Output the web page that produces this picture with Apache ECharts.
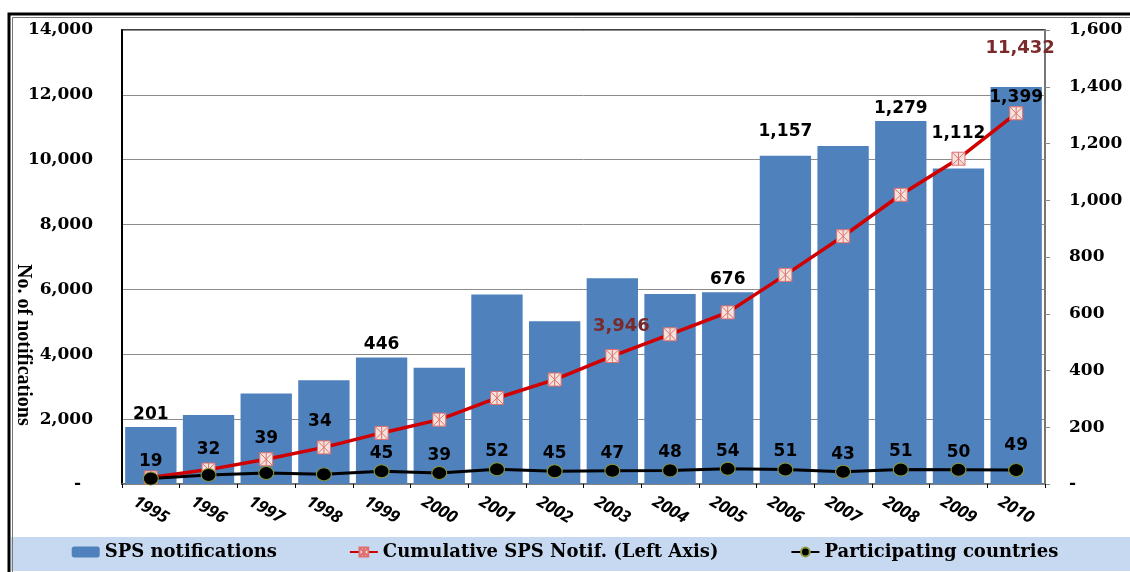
<!DOCTYPE html>
<html>
<head>
<meta charset="utf-8">
<script src="https://cdn.jsdelivr.net/npm/echarts@6/dist/echarts.min.js"></script>
<style>
  html, body { margin: 0; padding: 0; background: #fff; }
  #chart { width: 1130px; height: 572px; }
</style>
</head>
<body>
<div id="chart"></div>
<script>
  // data
  var years = ['1995', '1996', '1997', '1998', '1999', '2000', '2001', '2002',
               '2003', '2004', '2005', '2006', '2007', '2008', '2009', '2010'];
  var notifications = [201, 243, 319, 366, 446, 410, 668, 574, 725, 670, 676, 1157, 1191, 1279, 1112, 1399];
  var cumulative = [201, 444, 763, 1129, 1575, 1985, 2653, 3221, 3946, 4616, 5292, 6449, 7640, 8919, 10031, 11432];
  var countries = [19, 32, 39, 34, 45, 39, 52, 45, 47, 48, 54, 51, 43, 51, 50, 49];

  // which values get a label on the chart
  var barLabelYears = ['1995', '1999', '2005', '2006', '2008', '2009', '2010'];
  var cumLabelYears = ['2003', '2010'];

  // label nudges so they clear the lines
  var barOffsets = { '2006': [0, -12], '2009': [0, -22] };
  var cumOffsets = { '2003': [9, -9], '2010': [4, -44] };
  var countryOffsets = { '1996': [0, -8], '1997': [0, -17], '1998': [-4, -35], '2010': [0, -7] };

  var labelFont = 'DejaVu Sans';
  var axisFont = 'DejaVu Serif';

  function fmt(v) {
    return v.toLocaleString('en-US');
  }

  var barData = notifications.map(function (v, i) {
    var y = years[i];
    var show = barLabelYears.indexOf(y) >= 0;
    var item = { value: v, label: { show: show } };
    if (y === '2010') {
      item.label.position = 'insideTop';
      item.label.offset = [0, -2];
    } else if (barOffsets[y]) {
      item.label.offset = barOffsets[y];
    }
    return item;
  });

  var cumData = cumulative.map(function (v, i) {
    var y = years[i];
    var item = { value: v, label: { show: cumLabelYears.indexOf(y) >= 0 } };
    if (cumOffsets[y]) item.label.offset = cumOffsets[y];
    return item;
  });

  var countryData = countries.map(function (v, i) {
    var y = years[i];
    var item = { value: v };
    if (countryOffsets[y]) item.label = { offset: countryOffsets[y] };
    return item;
  });

  var chart = echarts.init(document.getElementById('chart'));

  var option = {
    animation: false,
    backgroundColor: '#fff',
    graphic: [
      {
        type: 'rect', z: -10, silent: true,
        shape: { x: 11, y: 537, width: 1125, height: 34 },
        style: { fill: '#c6d9f1' }
      },
      {
        type: 'rect', z: 100, silent: true,
        shape: { x: 9, y: 14, width: 1140, height: 600 },
        style: { fill: 'none', stroke: '#000', lineWidth: 3 }
      },
      {
        type: 'rect', z: 100, silent: true,
        shape: { x: 12.5, y: 17.5, width: 1140, height: 600 },
        style: { fill: 'none', stroke: '#777', lineWidth: 1 }
      },
      {
        type: 'text', z: 100,
        rotation: -Math.PI / 2,
        x: 33, y: 264,
        style: {
          text: 'No. of notifications',
          font: 'bold 20px "Liberation Serif"',
          fill: '#000'
        }
      }
    ],
    grid: {
      left: 122, top: 30, right: 85, bottom: 88,
      show: true,
      borderColor: '#000',
      borderWidth: 1.5
    },
    legend: {
      bottom: 6,
      left: 'center',
      itemGap: 72,
      itemWidth: 28,
      itemHeight: 11,
      textStyle: { fontFamily: axisFont, fontWeight: 'bold', fontSize: 18, color: '#000' },
      data: ['SPS notifications', 'Cumulative SPS Notif. (Left Axis)', 'Participating countries']
    },
    xAxis: {
      type: 'category',
      data: years,
      axisLine: { lineStyle: { color: '#7f7f7f', width: 1.5 } },
      axisTick: { show: true, length: 4, lineStyle: { color: '#000' } },
      axisLabel: {
        rotate: -30,
        align: 'center',
        margin: 26,
        fontFamily: 'Noto Sans',
        fontStyle: 'italic',
        fontWeight: 'bold',
        fontSize: 17,
        color: '#000'
      }
    },
    yAxis: [
      {
        type: 'value',
        min: 0, max: 14000, interval: 2000,
        axisLine: { show: true, lineStyle: { color: '#000', width: 2 } },
        axisTick: { show: false },
        splitLine: { lineStyle: { color: '#8c8c8c', width: 1 } },
        axisLabel: {
          margin: 29,
          fontFamily: axisFont, fontWeight: 'bold', fontSize: 17, color: '#000',
          formatter: function (v) { return v === 0 ? '-  ' : fmt(v); }
        }
      },
      {
        type: 'value',
        min: 0, max: 1600, interval: 200,
        axisLine: { show: true, lineStyle: { color: '#888', width: 1.5 } },
        axisTick: { show: true, length: 5, lineStyle: { color: '#888' } },
        splitLine: { show: false },
        axisLabel: {
          margin: 24,
          fontFamily: axisFont, fontWeight: 'bold', fontSize: 17, color: '#000',
          formatter: function (v) { return v === 0 ? '-' : fmt(v); }
        }
      }
    ],
    series: [
      {
        name: 'SPS notifications',
        type: 'bar',
        yAxisIndex: 1,
        barCategoryGap: '11%',
        itemStyle: { color: '#4f81bd' },
        label: {
          show: false,
          position: 'top',
          distance: 4,
          fontFamily: labelFont, fontWeight: 'bold', fontSize: 17, color: '#000',
          formatter: function (p) { return fmt(p.value); }
        },
        data: barData,
        z: 2
      },
      {
        name: 'Cumulative SPS Notif. (Left Axis)',
        type: 'line',
        yAxisIndex: 0,
        symbol: 'path://M0,0 L10,0 L10,10 L0,10 Z M0,0 L10,10 M10,0 L0,10 M5,0 L5,10',
        symbolSize: 13,
        lineStyle: { color: '#d00000', width: 3.5 },
        itemStyle: { color: '#f2e4dc', borderColor: '#e07070', borderWidth: 1 },
        label: {
          show: false,
          position: 'top',
          fontFamily: labelFont, fontWeight: 'bold', fontSize: 18, color: '#7a2a2a',
          formatter: function (p) { return fmt(p.value); }
        },
        data: cumData,
        z: 4
      },
      {
        name: 'Participating countries',
        type: 'line',
        yAxisIndex: 1,
        symbol: 'circle',
        symbolSize: [15, 13],
        lineStyle: { color: '#000', width: 3 },
        itemStyle: { color: '#000', borderColor: '#8a9a3a', borderWidth: 1 },
        label: {
          show: true,
          position: 'top',
          distance: 2,
          fontFamily: labelFont, fontWeight: 'bold', fontSize: 17, color: '#000'
        },
        data: countryData,
        z: 5
      }
    ]
  };

  chart.setOption(option);
</script>
</body>
</html>
